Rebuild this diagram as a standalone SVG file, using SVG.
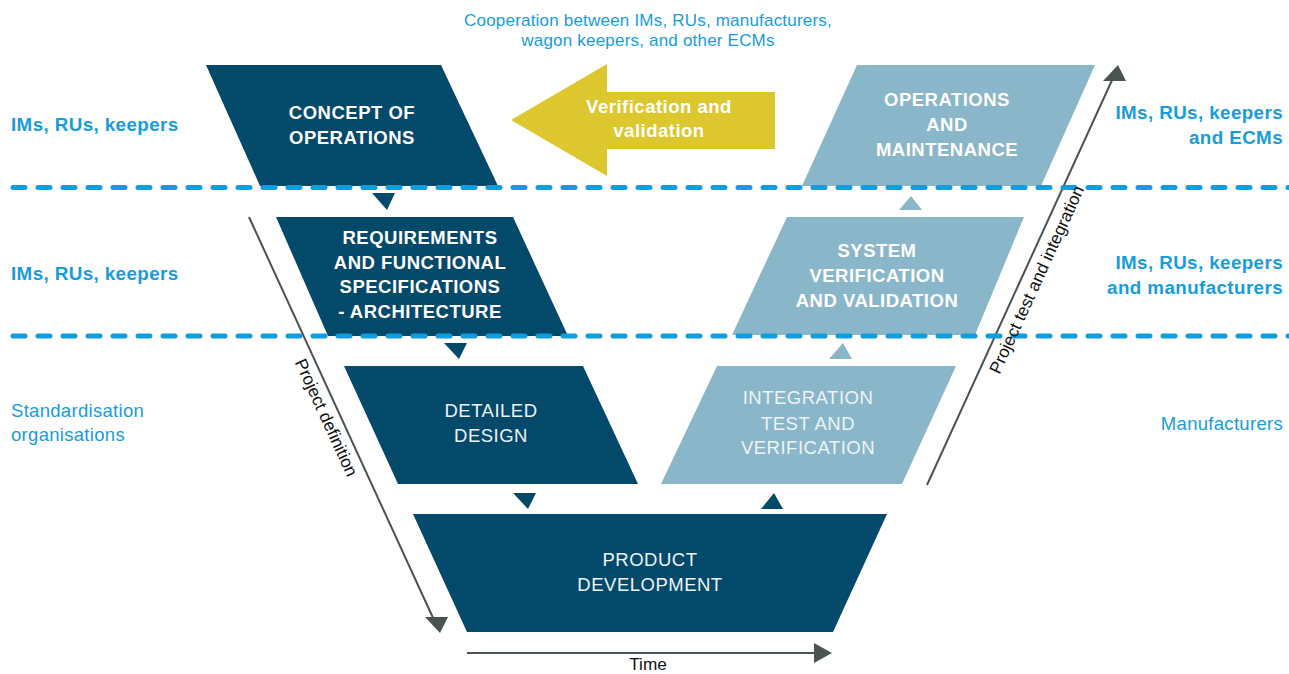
<svg xmlns="http://www.w3.org/2000/svg" width="1289" height="674" viewBox="0 0 1289 674">
<style>
.dark{fill:#03496A}
.light{fill:#8AB6C9}
.b{font-family:"Liberation Sans",Arial,sans-serif;font-weight:bold;font-size:18.5px;letter-spacing:0.5px;fill:#ffffff;text-anchor:middle}
.r{font-family:"Liberation Sans",Arial,sans-serif;font-size:18.5px;letter-spacing:0.5px;fill:#EEF3F6;text-anchor:middle}
.sb{font-family:"Liberation Sans",Arial,sans-serif;font-weight:bold;font-size:18.8px;letter-spacing:0.4px;fill:#179CDB}
.sr{font-family:"Liberation Sans",Arial,sans-serif;font-size:18.5px;letter-spacing:0.3px;fill:#179CDB}
.cap{font-family:"Liberation Sans",Arial,sans-serif;font-size:17px;letter-spacing:0.2px;fill:#179CDB;text-anchor:middle}
.ax{font-family:"Liberation Sans",Arial,sans-serif;font-size:17.2px;fill:#111111;text-anchor:middle}
.dash{stroke:#0F9DDE;stroke-width:5;stroke-linecap:round;stroke-dasharray:12 13;fill:none}
.axl{stroke:#4B5452;stroke-width:2;fill:none}
.axh{fill:#4B5452}
</style>

<text class="cap" x="648" y="26">Cooperation between IMs, RUs, manufacturers,</text>
<text class="cap" x="648" y="46">wagon keepers, and other ECMs</text>

<g id="concept">
<polygon class="dark" points="206,65 441,65 498,186 260,186"/>
<text class="b" x="352" y="119">CONCEPT OF</text>
<text class="b" x="352" y="144">OPERATIONS</text>
</g>

<g id="vv-arrow">
<polygon fill="#DCC72E" points="511,120 607,64 607,92 775,92 775,149 607,149 607,176"/>
<text class="b" x="659" y="113">Verification and</text>
<text class="b" x="659" y="137">validation</text>
</g>

<g id="operations">
<polygon class="light" points="857,65 1095,65 1041,186 802,186"/>
<text class="b" x="947" y="106">OPERATIONS</text>
<text class="b" x="947" y="131">AND</text>
<text class="b" x="947" y="156">MAINTENANCE</text>
</g>

<g id="requirements">
<polygon class="dark" points="276,217 513,217 568,336 328,336"/>
<text class="b" x="420" y="244">REQUIREMENTS</text>
<text class="b" x="420" y="268.7">AND FUNCTIONAL</text>
<text class="b" x="420" y="293.3">SPECIFICATIONS</text>
<text class="b" x="420" y="318">- ARCHITECTURE</text>
</g>

<g id="system">
<polygon class="light" points="787,217 1024,217 975,335 732,335"/>
<text class="b" x="877" y="257">SYSTEM</text>
<text class="b" x="877" y="282">VERIFICATION</text>
<text class="b" x="877" y="307">AND VALIDATION</text>
</g>

<g id="detailed">
<polygon class="dark" points="344,366 583,366 638,484 398,484"/>
<text class="r" x="491" y="417">DETAILED</text>
<text class="r" x="491" y="442">DESIGN</text>
</g>

<g id="integration">
<polygon class="light" points="717,366 956,366 902,484 661,484"/>
<text class="r" x="808" y="404">INTEGRATION</text>
<text class="r" x="808" y="430">TEST AND</text>
<text class="r" x="808" y="454">VERIFICATION</text>
</g>

<g id="product">
<polygon class="dark" points="413,514 887,514 833,632 467,632"/>
<text class="r" x="650" y="566">PRODUCT</text>
<text class="r" x="650" y="591">DEVELOPMENT</text>
</g>

<g id="connectors">
<polygon class="dark" points="372,193 395,193 387,210"/>
<polygon class="dark" points="444,343 467,343 459,359"/>
<polygon class="dark" points="513,493 536,493 528,509"/>
<polygon class="dark" points="761,509 783,509 774,493"/>
<polygon class="light" points="829,359 852,359 843,343"/>
<polygon class="light" points="899,210 922,210 911,196"/>
<line class="axl" x1="249" y1="217" x2="434" y2="620"/>
<polygon class="axh" points="425,617 448,617 440,633"/>
<line class="axl" x1="927" y1="485" x2="1113" y2="78"/>
<polygon class="axh" points="1103,81 1126,81 1118,65"/>
<line class="axl" x1="467" y1="653" x2="816" y2="653"/>
<polygon class="axh" points="814,643 832,653 814,663"/>
</g>

<g id="separators">
<line class="dash" x1="13" y1="187.5" x2="1295" y2="187.5"/>
<line class="dash" x1="13" y1="336" x2="1295" y2="336"/>
</g>

<text class="ax" transform="translate(321,420) rotate(65.4)">Project definition</text>
<text class="ax" transform="translate(1042,282) rotate(-65.4)">Project test and integration</text>
<text class="ax" x="648" y="670" font-size="16">Time</text>

<g id="labels">
<text class="sb" x="11" y="131">IMs, RUs, keepers</text>
<text class="sb" x="11" y="280">IMs, RUs, keepers</text>
<text class="sr" x="11" y="417">Standardisation</text>
<text class="sr" x="11" y="441">organisations</text>
<text class="sb" x="1283" y="119" text-anchor="end">IMs, RUs, keepers</text>
<text class="sb" x="1283" y="143.5" text-anchor="end">and ECMs</text>
<text class="sb" x="1283" y="269" text-anchor="end">IMs, RUs, keepers</text>
<text class="sb" x="1283" y="293.5" text-anchor="end">and manufacturers</text>
<text class="sr" x="1283" y="430" text-anchor="end">Manufacturers</text>
</g>
</svg>
